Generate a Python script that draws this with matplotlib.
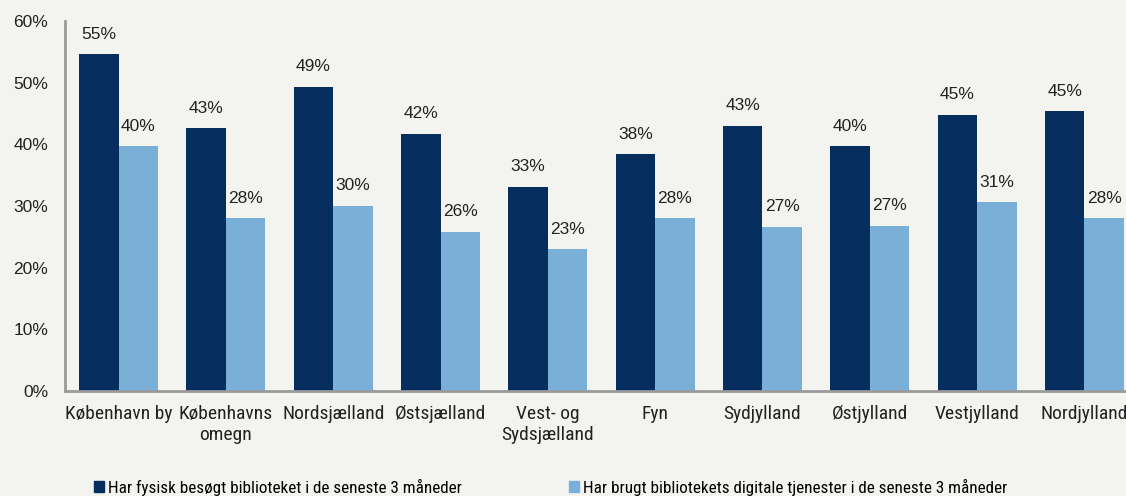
import matplotlib
matplotlib.use('Agg')
import matplotlib.pyplot as plt
from matplotlib.patches import Patch
import numpy as np

# ---------------------------------------------------------------------------
# Data
# ---------------------------------------------------------------------------
regions = ['København by', 'Københavns\nomegn', 'Nordsjælland', 'Østsjælland',
           'Vest- og\nSydsjælland', 'Fyn', 'Sydjylland', 'Østjylland',
           'Vestjylland', 'Nordjylland']
fysisk = [54.6, 42.6, 49.3, 41.7, 33.1, 38.4, 43.0, 39.7, 44.8, 45.4]
digital = [39.7, 28.0, 30.0, 25.8, 23.0, 28.0, 26.6, 26.8, 30.6, 28.0]
series_names = ['Har fysisk besøgt biblioteket i de seneste 3 måneder',
                'Har brugt bibliotekets digitale tjenester i de seneste 3 måneder']

DARK = '#052d5e'
LIGHT = '#7aafd8'
BG = '#f3f3ef'
SPINE = '#9a9a9a'
NARROW = ['Roboto Condensed', 'Liberation Sans Narrow', 'Roboto', 'DejaVu Sans']
REG = ['Liberation Sans', 'DejaVu Sans']

fig = plt.figure(figsize=(11.26, 4.96), dpi=100, facecolor=BG)
ax = fig.add_axes([65 / 1126, 105 / 496, 1073 / 1126, 370 / 496])
ax.set_facecolor(BG)

x = np.arange(len(regions))
w = 0.368
b1 = ax.bar(x - w / 2, fysisk, w, color=DARK)
b2 = ax.bar(x + w / 2, digital, w, color=LIGHT)

for bars in (b1, b2):
    for rect in bars:
        h = rect.get_height()
        ax.annotate(f'{h:.0f}%', (rect.get_x() + rect.get_width() / 2, h),
                    xytext=(0, 9), textcoords='offset points',
                    ha='center', va='bottom', fontsize=12.5, family=REG,
                    color='#222222')

ax.set_xlim(-0.5, len(regions) - 0.5)
ax.set_ylim(0, 60)
ax.set_yticks(range(0, 61, 10))
ax.set_yticklabels([f'{v}%' for v in range(0, 61, 10)], family=REG,
                   fontsize=12.5, color='#222222')
ax.set_xticks(x)
ax.set_xticklabels(regions, family=NARROW, fontsize=14, color='#222222',
                   linespacing=1.2)
ax.tick_params(axis='both', length=0)
ax.tick_params(axis='y', pad=12)
ax.tick_params(axis='x', pad=10)

for s in ('top', 'right'):
    ax.spines[s].set_visible(False)
for s in ('left', 'bottom'):
    ax.spines[s].set_color(SPINE)
    ax.spines[s].set_linewidth(2)

# two legend entries placed separately, as in the original
for color, name, xpos in zip((DARK, LIGHT), series_names, (94, 569)):
    fig.legend([Patch(color=color)], [name], loc='center left',
               bbox_to_anchor=(xpos / 1126, 1 - 487 / 496), frameon=False,
               handlelength=0.6, handleheight=0.6, handletextpad=0.2,
               borderpad=0, borderaxespad=0,
               prop={'family': NARROW, 'size': 12.3})

fig.savefig('out.png', dpi=100, facecolor=BG)
